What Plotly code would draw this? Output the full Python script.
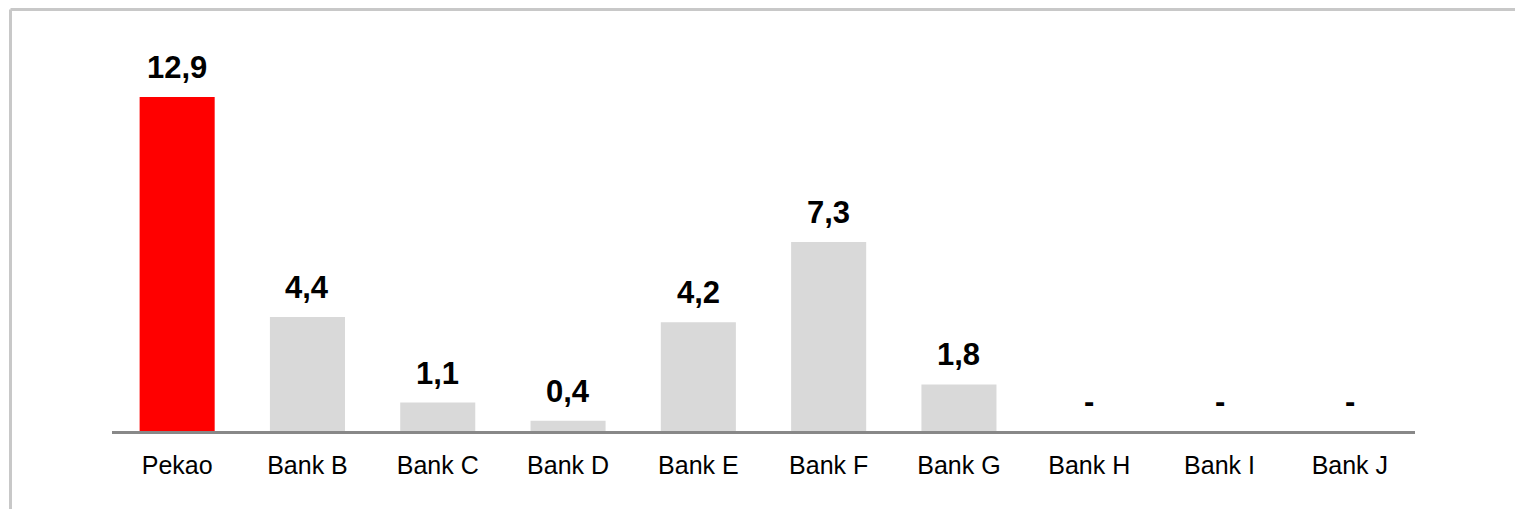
import plotly.graph_objects as go

categories = ["Pekao", "Bank B", "Bank C", "Bank D", "Bank E", "Bank F", "Bank G", "Bank H", "Bank I", "Bank J"]
values = [12.9, 4.4, 1.1, 0.4, 4.2, 7.3, 1.8, 0, 0, 0]
labels = ["12,9", "4,4", "1,1", "0,4", "4,2", "7,3", "1,8", "-", "-", "-"]
colors = ["#FF0000"] + ["#D9D9D9"] * 9

W, H = 1515, 509
top, base = 10, 431
left, right = 112, 1415

fig = go.Figure()
fig.add_trace(go.Bar(x=categories, y=values, marker=dict(color=colors, line=dict(width=0)),
                     width=0.576, hoverinfo="skip"))

for c, v, t in zip(categories, values, labels):
    fig.add_annotation(x=c, y=v, text=f"<b>{t}</b>", showarrow=False, xref="x", yref="y",
                       yanchor="bottom", yshift=10,
                       font=dict(family="Liberation Sans, Arial", size=31, color="black"))

plot_h = base - top
ymax = 12.9 * plot_h / (base - 97)

# outer frame (light grey)
fx0 = (10.5 - left) / (right - left)
fy1 = 1 + (top - 9.5) / plot_h
fig.add_shape(type="line", xref="paper", yref="paper", x0=fx0, x1=fx0, y0=-0.5, y1=fy1,
              line=dict(color="#C8C8C8", width=3))
fig.add_shape(type="line", xref="paper", yref="paper", x0=fx0, x1=1.2, y0=fy1, y1=fy1,
              line=dict(color="#C8C8C8", width=3))

fig.update_layout(
    width=W, height=H,
    margin=dict(l=left, r=W - right, t=top, b=H - base, pad=0),
    paper_bgcolor="white", plot_bgcolor="white",
    showlegend=False, bargap=0.42,
    xaxis=dict(range=[-0.5, 9.5], showline=True, linecolor="#888888", linewidth=3,
               ticks="", showgrid=False, zeroline=False, ticklabelstandoff=10,
               tickfont=dict(family="Liberation Sans, Arial", size=25, color="black")),
    yaxis=dict(range=[0, ymax], visible=False, showgrid=False, zeroline=False),
)

fig.write_html("out.html", config={"displayModeBar": False, "staticPlot": True},
               post_script="document.body.style.margin='0';document.body.style.overflow='hidden';"
                           "document.documentElement.style.overflow='hidden';")
